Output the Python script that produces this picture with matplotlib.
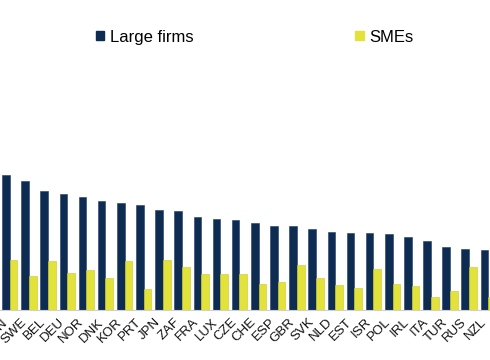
import matplotlib
matplotlib.use("Agg")
import matplotlib.pyplot as plt
import numpy as np
from matplotlib.patches import Patch

countries = ["FIN", "SWE", "BEL", "DEU", "NOR", "DNK", "KOR", "PRT", "JPN", "ZAF",
             "FRA", "LUX", "CZE", "CHE", "ESP", "GBR", "SVK", "NLD", "EST", "ISR",
             "POL", "IRL", "ITA", "TUR", "RUS", "NZL"]
large_firms = [67.5, 64.5, 59.5, 58.0, 56.5, 54.5, 53.5, 52.5, 50.0, 49.5,
               46.5, 45.5, 45.0, 43.5, 42.0, 42.0, 40.5, 39.0, 38.5, 38.5,
               38.0, 36.5, 34.5, 31.5, 30.5, 30.0]
smes = [25.0, 17.0, 24.5, 18.5, 20.0, 16.0, 24.5, 10.5, 25.0, 21.5,
        18.0, 18.0, 18.0, 13.0, 14.0, 22.5, 16.0, 12.5, 11.0, 20.5,
        13.0, 12.0, 6.5, 9.5, 21.5, 6.5]

fig = plt.figure(figsize=(4.9, 3.6), dpi=100)
ax = fig.add_axes([0.0, 50 / 360, 1.0, 250 / 360])

x = np.arange(len(countries))
w = 0.4
navy = "#0e2c52"
yellow = "#e2e23a"
ax.bar(x - w / 2, large_firms, width=w, color=navy, edgecolor="#1d3d66", linewidth=0.4)
ax.bar(x + w / 2, smes, width=w, color=yellow, edgecolor="#c8c828", linewidth=0.4)

ax.set_xlim(-0.512, 25.09)
ax.set_ylim(0, 125)
ax.set_xticks(x)
ax.set_xticklabels(countries, rotation=45, ha="right", fontsize=9.5,
                   family="Liberation Sans", color="#111111")
ax.tick_params(axis="x", length=0, pad=4.5)
ax.set_yticks([])
for s in ["top", "right", "left"]:
    ax.spines[s].set_visible(False)
ax.spines["bottom"].set_color("#d0d0d0")
ax.spines["bottom"].set_linewidth(0.8)

handles = [Patch(facecolor=navy, edgecolor=navy, label="Large firms"),
           Patch(facecolor=yellow, edgecolor=yellow, label="SMEs")]
fig.legend(handles=handles, loc="center", bbox_to_anchor=(0.52, 0.897), ncol=2,
           frameon=False, prop={"family": "Liberation Sans", "size": 12},
           handlelength=0.5, handleheight=0.5, handletextpad=0.35,
           columnspacing=9.7)

fig.savefig("out.png", dpi=100)
